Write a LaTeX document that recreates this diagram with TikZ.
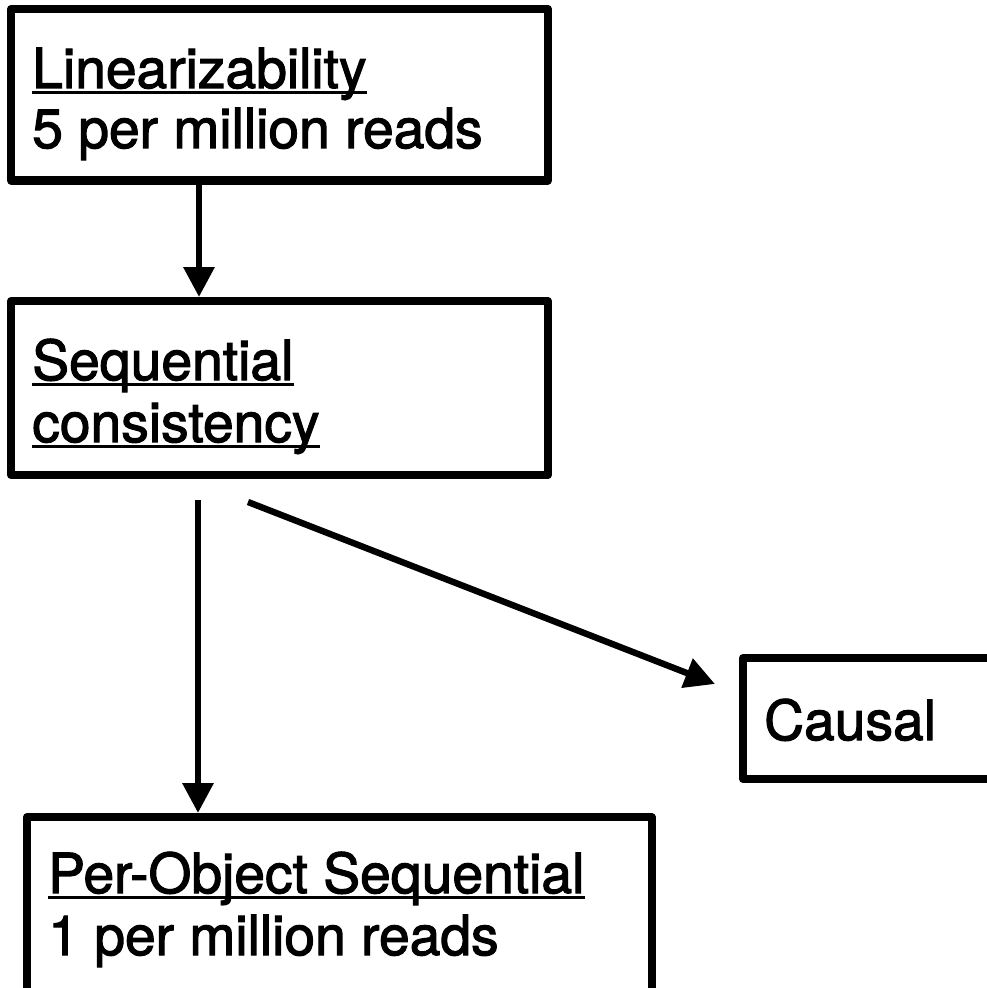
\documentclass[tikz,border=0pt]{standalone}
\usepackage{fontspec}
\setmainfont{TeX Gyre Heros}[FakeBold=2]
\usetikzlibrary{arrows.meta,calc}
\begin{document}
\begin{tikzpicture}[x=0.75pt,y=-0.75pt,
  box/.style={draw,rectangle,line width=6pt,line join=round,inner sep=0pt},
  txt/.style={inner sep=0pt,anchor=base west,font=\fontsize{41.4}{48}\selectfont},
  uline/.style={line width=2.4pt},
  arr/.style={line width=4.8pt,-{Triangle[width=22.5pt,length=22.5pt]}}]
\useasboundingbox (0,0) rectangle (987,988);
\clip (0,0) rectangle (987,988);
% boxes
\node[box,minimum width=537*0.75pt,minimum height=171.5*0.75pt] (b1) at (279.5,94.75) {};
\node[box,minimum width=537*0.75pt,minimum height=174*0.75pt] (b2) at (279.5,388) {};
\node[box,minimum width=267*0.75pt,minimum height=121*0.75pt] (b3) at (876.5,718.5) {};
\node[box,minimum width=624.5*0.75pt,minimum height=193*0.75pt] (b4) at (339.25,913.5) {};
% texts
\node[txt] (t1) at (32,88) {Linearizability};
\node[txt] (t1b) at (32,148) {5 per million reads};
\node[txt] (t2) at (32,380) {Sequential};
\node[txt] (t2b) at (32,442) {consistency};
\node[txt] (t3) at (764,740) {Causal};
\node[txt] (t4) at (48,893) {Per-Object Sequential};
\node[txt] (t4b) at (48,955) {1 per million reads};
% underlines
\foreach \t in {t1,t2,t2b,t4}{
  \draw[uline] ([yshift=-3.6pt]\t.base west) -- ([yshift=-3.6pt]\t.base east);
}
% connectors
\coordinate (c1) at (199,0);
\coordinate (s2) at (198,500);
\coordinate (s3) at (248,502);
\coordinate (e3) at ($(b3.west)+(-24,-34.5)$);
\draw[arr] (b1.south -| c1) -- (b2.north -| c1);
\draw[arr] (s2) -- (s2 |- b4.north);
\draw[arr] (s3) -- (e3);
\end{tikzpicture}
\end{document}
